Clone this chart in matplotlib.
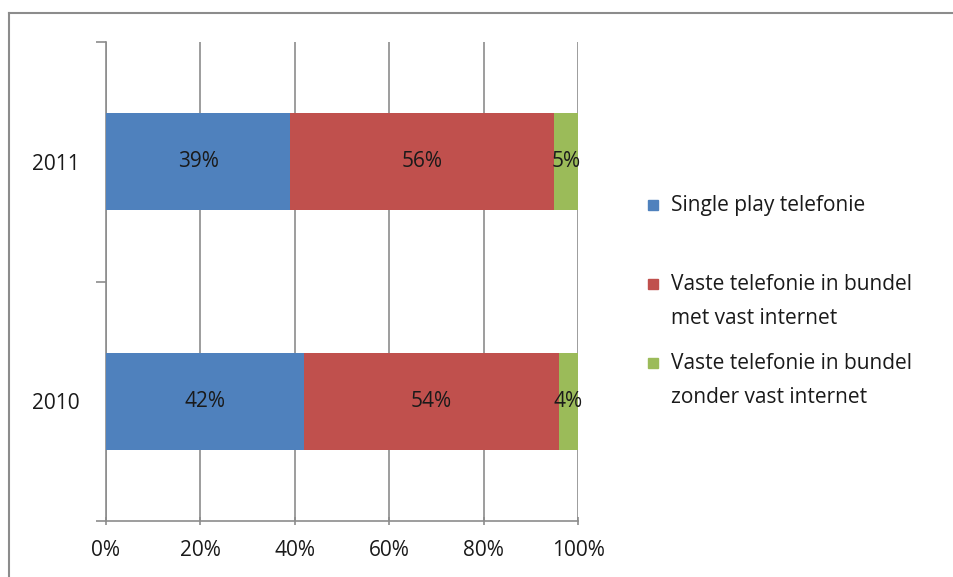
import matplotlib.pyplot as plt
from matplotlib.lines import Line2D
from matplotlib.patches import Rectangle

years = ['2010', '2011']
series = ['Single play telefonie',
          'Vaste telefonie in bundel\nmet vast internet',
          'Vaste telefonie in bundel\nzonder vast internet']
values = {
    'Single play telefonie': [42, 39],
    'Vaste telefonie in bundel\nmet vast internet': [54, 56],
    'Vaste telefonie in bundel\nzonder vast internet': [4, 5],
}
colours = ['#4F81BD', '#C0504D', '#9BBB59']
xticks = [0, 20, 40, 60, 80, 100]

plt.rcParams['font.family'] = ['Open Sans', 'DejaVu Sans']

W, H = 954, 577
fig = plt.figure(figsize=(W / 100, H / 100), dpi=100)
ax = fig.add_axes([106 / W, 1 - 521 / H, (578 - 106) / W, (521 - 42) / H])

# bars + labels
left = [0] * len(years)
for name, col in zip(series, colours):
    vals = values[name]
    ax.barh(range(len(years)), vals, left=left, height=0.405, color=col, zorder=3)
    for i, v in enumerate(vals):
        ax.text(left[i] + v / 2, i, f'{v}%', ha='center', va='center',
                fontsize=15, color='#1a1a1a', zorder=4)
    left = [a + b for a, b in zip(left, vals)]

ax.set_xlim(0, 100)
ax.set_ylim(-0.5, len(years) - 0.5)
ax.set_xticks(xticks)
ax.set_xticklabels([f'{t}%' for t in xticks], fontsize=15, color='#1a1a1a')
ax.xaxis.grid(True, color='#8c8c8c', linewidth=1.2, zorder=0)
ax.tick_params(axis='x', length=6, width=1.2, color='#8c8c8c', direction='inout', pad=11)

# category boundaries as ticks, labels at centers
ax.set_yticks([-0.5, 0.5, 1.5])
ax.set_yticklabels([])
ax.set_yticks(range(len(years)), minor=True)
ax.set_yticklabels(years, minor=True, fontsize=15, color='#1a1a1a')
ax.tick_params(axis='y', which='major', length=7, width=1.2, color='#8c8c8c', direction='out')
ax.tick_params(axis='y', which='minor', length=0, pad=19)

for s in ['top', 'right']:
    ax.spines[s].set_visible(False)
for s in ['left', 'bottom']:
    ax.spines[s].set_color('#8c8c8c')
    ax.spines[s].set_linewidth(1.2)

# legend drawn by hand (Excel spaces entries evenly)
leg_y = [205, 284, 363]
for name, col, y in zip(series, colours, leg_y):
    fig.patches.append(Rectangle((648 / W, 1 - (y + 5) / H), 10 / W, 10 / H,
                                 transform=fig.transFigure, color=col))
    fig.text(671 / W, 1 - (y - 10) / H, name, ha='left', va='top',
             fontsize=15, color='#1a1a1a', linespacing=1.8)

# outer frame (top and left edges visible)
fig.lines.append(Line2D([9 / W, 1], [1 - 13 / H, 1 - 13 / H], transform=fig.transFigure,
                        color='#8c8c8c', linewidth=1.5))
fig.lines.append(Line2D([9 / W, 9 / W], [0, 1 - 13 / H], transform=fig.transFigure,
                        color='#8c8c8c', linewidth=1.5))

fig.savefig('out.png', dpi=100)
